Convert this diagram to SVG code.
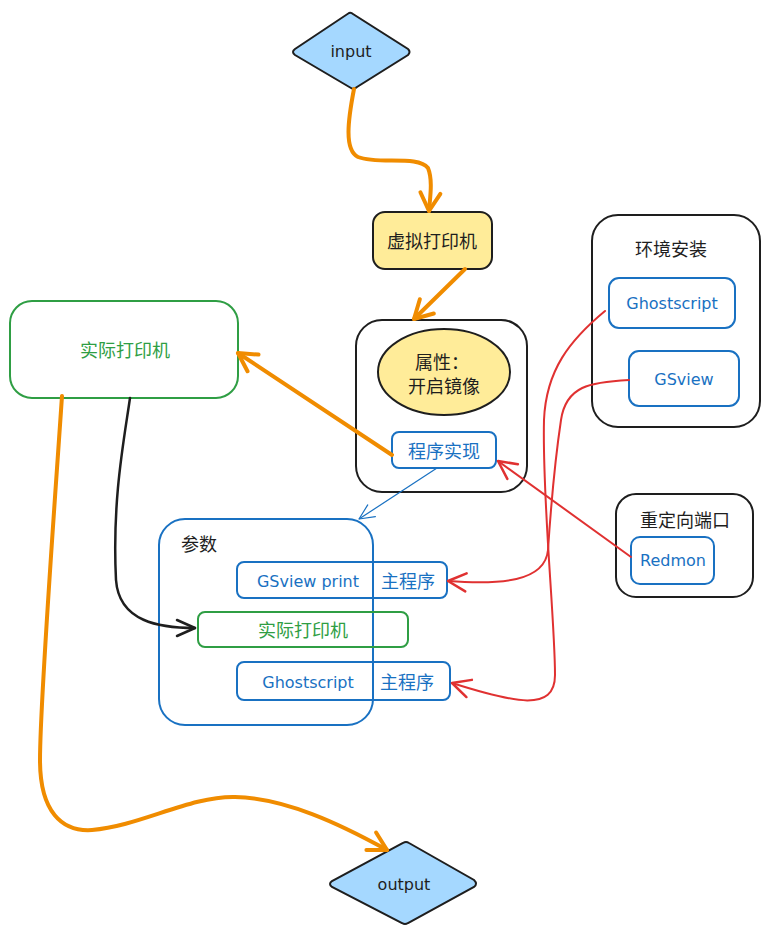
<svg xmlns="http://www.w3.org/2000/svg" width="770" height="939" viewBox="0 0 770 939">
<style>
.cjk{font-family:"Noto Sans CJK SC","Noto Sans",sans-serif;font-size:18px;text-anchor:middle;dominant-baseline:central}
.hw{font-family:"DejaVu Sans","Liberation Sans",sans-serif;font-size:16px;text-anchor:middle;dominant-baseline:central}
.blk{stroke:#1e1e1e;stroke-width:2}
.blu{stroke:#1971c2;stroke-width:2}
.grn{stroke:#2f9e44;stroke-width:2}
.tb{fill:#1971c2}
.tg{fill:#2f9e44}
.tk{fill:#1e1e1e}
.or{stroke:#f08c00;stroke-width:4;fill:none;stroke-linecap:round}
.rd{stroke:#e03131;stroke-width:2;fill:none;stroke-linecap:round}
</style>
<defs>
<marker id="ao" markerUnits="userSpaceOnUse" markerWidth="40" markerHeight="40" viewBox="-25 -20 30 40" refX="0" refY="0" orient="auto" overflow="visible"><path d="M-18,-10 L0,0 L-18,10" fill="none" stroke="#f08c00" stroke-width="4" stroke-linecap="round" stroke-linejoin="round"/></marker>
<marker id="ar" markerUnits="userSpaceOnUse" markerWidth="40" markerHeight="40" viewBox="-25 -20 30 40" refX="0" refY="0" orient="auto" overflow="visible"><path d="M-18,-9 L0,0 L-18,9" fill="none" stroke="#e03131" stroke-width="2.5" stroke-linecap="round" stroke-linejoin="round"/></marker>
<marker id="ak" markerUnits="userSpaceOnUse" markerWidth="40" markerHeight="40" viewBox="-25 -20 30 40" refX="0" refY="0" orient="auto" overflow="visible"><path d="M-18,-8 L0,0 L-18,8" fill="none" stroke="#1e1e1e" stroke-width="2.5" stroke-linecap="round" stroke-linejoin="round"/></marker>
<marker id="ab" markerUnits="userSpaceOnUse" markerWidth="40" markerHeight="40" viewBox="-25 -20 30 40" refX="0" refY="0" orient="auto" overflow="visible"><path d="M-15,-7 L0,0 L-15,7" fill="none" stroke="#1971c2" stroke-width="1.2" stroke-linecap="round" stroke-linejoin="round"/></marker>
</defs>

<g id="input">
<path d="M349,13 Q351,12 353,14 L408,49 Q411,52 408,55 L357,87 Q354,90 351,88 L295,55 Q291,52 295,49 Z" fill="#a5d8ff" class="blk"/>
<text x="351" y="51" class="hw tk">input</text>
</g>

<g id="virtual-printer">
<rect x="373" y="212" width="119" height="57" rx="12" fill="#ffec99" class="blk"/>
<text x="432" y="240" class="cjk tk">虚拟打印机</text>
</g>

<g id="printer-props">
<rect x="356" y="320" width="171" height="172" rx="26" fill="none" class="blk" stroke-width="2.5"/>
</g>

<g id="mirror-attr">
<ellipse cx="444" cy="372" rx="66" ry="43" fill="#ffec99" class="blk" stroke-width="2.5"/>
<text x="442" y="361" class="cjk tk">属性：</text>
<text x="444" y="385" class="cjk tk">开启镜像</text>
</g>

<g id="impl">
<rect x="392" y="432" width="104" height="36" rx="7" fill="#ffffff" class="blu"/>
<text x="444" y="450" class="cjk tb">程序实现</text>
</g>

<g id="real-printer">
<rect x="10" y="301" width="228" height="97" rx="22" fill="none" class="grn"/>
<text x="125" y="349" class="cjk tg">实际打印机</text>
</g>

<g id="params">
<rect x="159" y="519" width="214" height="206" rx="26" fill="none" class="blu"/>
<text x="199" y="543" class="cjk tk">参数</text>
</g>

<g id="gsview-main">
<rect x="237" y="562" width="210" height="36" rx="7" fill="none" class="blu"/>
<text x="308" y="581" class="hw tb">GSview print</text>
<text x="408" y="580" class="cjk tb">主程序</text>
</g>

<g id="param-printer">
<rect x="198" y="612" width="210" height="35" rx="7" fill="none" class="grn"/>
<text x="303" y="629" class="cjk tg">实际打印机</text>
</g>

<g id="gs-main">
<rect x="237" y="662" width="213" height="38" rx="7" fill="none" class="blu"/>
<text x="308" y="682" class="hw tb">Ghostscript</text>
<text x="407" y="681" class="cjk tb">主程序</text>
</g>

<g id="env">
<rect x="592" y="215" width="168" height="212" rx="26" fill="none" class="blk" stroke-width="2.5"/>
<text x="671" y="248" class="cjk tk">环境安装</text>
</g>

<g id="ghostscript">
<rect x="609" y="278" width="126" height="50" rx="10" fill="none" class="blu"/>
<text x="672" y="303" class="hw tb">Ghostscript</text>
</g>

<g id="gsview">
<rect x="629" y="351" width="110" height="55" rx="10" fill="none" class="blu"/>
<text x="684" y="379" class="hw tb">GSview</text>
</g>

<g id="redirect">
<rect x="616" y="494" width="137" height="103" rx="20" fill="none" class="blk" stroke-width="2.5"/>
<text x="685" y="519" class="cjk tk">重定向端口</text>
</g>

<g id="redmon">
<rect x="631" y="537" width="83" height="47" rx="9" fill="none" class="blu"/>
<text x="673" y="560" class="hw tb">Redmon</text>
</g>

<g id="output">
<path d="M403,843 Q406,841 409,843 L474,880 Q478,884 474,887 L408,923 Q405,925 402,923 L332,887 Q328,884 332,881 Z" fill="#a5d8ff" class="blk" stroke-width="2.5"/>
<text x="404" y="884" class="hw tk">output</text>
</g>

<g id="connectors">
<path d="M354,89 C348,120 344,150 358,157 C378,165 418,155 428,168 C433,180 430,198 429,211" class="or" marker-end="url(#ao)"/>
<path d="M465,269 L414,319" class="or" marker-end="url(#ao)"/>
<path d="M392,455 L238,353" class="or" marker-end="url(#ao)"/>
<path d="M437,468 L359,519" stroke="#1971c2" stroke-width="1.2" fill="none" marker-end="url(#ab)"/>
<path d="M130,398 C124,440 112,500 116,580 C119,622 160,628 195,628" stroke="#1e1e1e" stroke-width="2.5" fill="none" stroke-linecap="round" marker-end="url(#ak)"/>
<path d="M62,396 C55,500 40,700 40,760 C40,812 62,832 92,830 C140,826 190,796 235,797 C285,798 340,824 387,850" class="or" marker-end="url(#ao)"/>
<path d="M605,311 C570,340 546,370 544,420 C542,500 555,620 555,675 C555,712 515,703 452,683" class="rd" marker-end="url(#ar)"/>
<path d="M629,380 C590,382 566,386 561,420 C555,460 550,520 548,550 C545,582 500,585 448,581" class="rd" marker-end="url(#ar)"/>
<path d="M631,557 L498,461" class="rd" marker-end="url(#ar)"/>
</g>
</svg>
